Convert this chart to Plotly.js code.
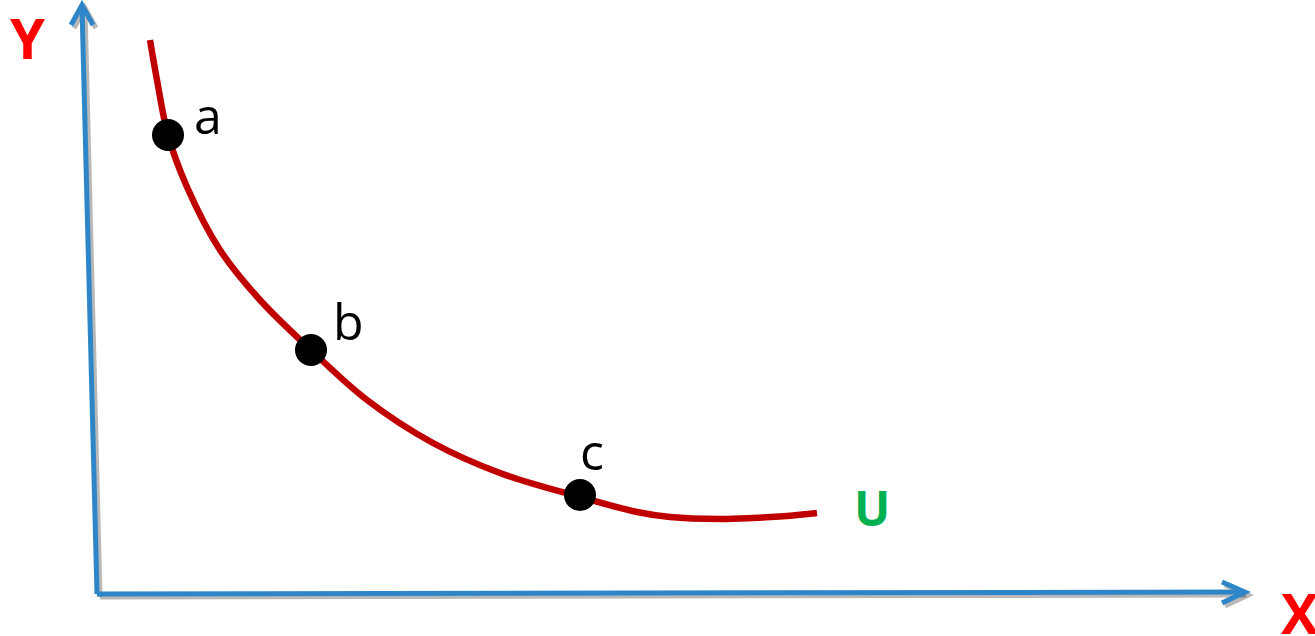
<!DOCTYPE html>
<html>
<head>
<meta charset="utf-8">
<script src="https://cdn.plot.ly/plotly-3.0.1.min.js"></script>
<style>html,body{margin:0;padding:0;background:#fff;}#chart{width:1315px;height:636px;}</style>
</head>
<body>
<div id="chart"></div>
<script>
// Indifference curve U (quantity of X on horizontal, Y on vertical)
const curveX = [53, 60, 71, 90, 123, 163, 214, 270, 336, 403, 483, 540, 573, 623, 656, 690, 720];
const curveY = [554, 514, 459, 407, 344, 294, 244, 194, 151, 121, 97, 82, 77, 75, 76, 78, 81];
const pointLabels = ["a", "b", "c"];
const pointX = [71, 214, 483];
const pointY = [459, 244, 99];
const curveLabel = "U";
const axisLabels = ["X", "Y"];

const FONT = "'Open Sans', 'Noto Sans', sans-serif";
const BLUE = "rgb(46,134,200)";
const SHADOW = "rgba(0,0,0,0.28)";

const traces = [
  {x: curveX, y: curveY, mode: "lines", line: {color: "#C00000", width: 6.5, shape: "spline", smoothing: 1}, hoverinfo: "skip"},
  {x: pointX, y: pointY, mode: "markers", marker: {color: "#000", size: 32}, hoverinfo: "skip"}
];

const labelShift = [[40, 20], [37, 29], [12, 44]];
const annotations = pointLabels.map((t, i) => ({
  x: pointX[i], y: pointY[i], text: t, showarrow: false,
  xshift: labelShift[i][0], yshift: labelShift[i][1],
  font: {family: FONT, size: 50, color: "#000"}
}));
annotations.push({
  x: curveX[curveX.length - 1], y: curveY[curveY.length - 1], text: "<b>" + curveLabel + "</b>",
  showarrow: false, xshift: 55, yshift: 6, font: {family: FONT, size: 48, color: "#00B050"}
});
annotations.push({x: 1203, y: -18, text: "<b>" + axisLabels[0] + "</b>", showarrow: false,
  font: {family: FONT, size: 56, color: "#FF0000"}});
annotations.push({x: -70, y: 557, text: "<b>" + axisLabels[1] + "</b>", showarrow: false,
  font: {family: FONT, size: 56, color: "#FF0000"}});

function axisShapes(dx, dy, color) {
  const L = (x0, y0, x1, y1) => ({type: "line", xref: "x", yref: "y", layer: "below",
    x0: x0 + dx, y0: y0 + dy, x1: x1 + dx, y1: y1 + dy, line: {color: color, width: 5}});
  const P = (d) => ({type: "path", xref: "x", yref: "y", layer: "below", path: d,
    line: {color: color, width: 5}});
  const pt = (x, y) => (x + dx) + "," + (y + dy);
  return [
    L(0, 0, 1146, 2),
    L(0, 0, -15, 587),
    P("M" + pt(1125, 12) + " L" + pt(1148, 2) + " L" + pt(1125, -9)),
    P("M" + pt(-26, 569) + " L" + pt(-15, 589) + " L" + pt(-4, 569))
  ];
}
const shapes = axisShapes(3, -3, SHADOW).concat(axisShapes(0, 0, BLUE));

const layout = {
  width: 1315, height: 636,
  margin: {l: 0, r: 0, t: 0, b: 0},
  paper_bgcolor: "#fff", plot_bgcolor: "#fff",
  showlegend: false,
  xaxis: {range: [-97, 1218], visible: false, fixedrange: true},
  yaxis: {range: [-42, 594], visible: false, fixedrange: true},
  shapes: shapes,
  annotations: annotations
};

Plotly.newPlot("chart", traces, layout, {displayModeBar: false, staticPlot: true});
</script>
</body>
</html>
